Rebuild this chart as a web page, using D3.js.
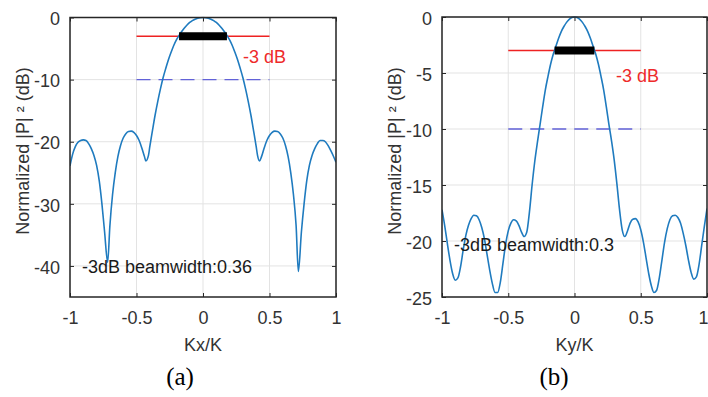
<!DOCTYPE html>
<html>
<head>
<meta charset="utf-8">
<script src="https://cdn.jsdelivr.net/npm/d3@7"></script>
<style>
  html, body { margin: 0; padding: 0; background: #fff; }
  svg { display: block; }
</style>
</head>
<body>
<svg id="chart" width="708" height="397"></svg>
<script>
// ---------- data ----------
const xTicks = [-1, -0.5, 0, 0.5, 1];
const xTickLabels = ["-1", "-0.5", "0", "0.5", "1"];
const yTicksA = [0, -10, -20, -30, -40];
const yTicksB = [0, -5, -10, -15, -20, -25];

// panel (a): pattern vs Kx/K
const patternAx = [-1, -0.98, -0.96, -0.94, -0.92, -0.9, -0.88, -0.86, -0.84, -0.82, -0.8, -0.78, -0.76, -0.74, -0.717, -0.7, -0.68, -0.66, -0.64, -0.62, -0.6, -0.58, -0.56, -0.54, -0.52, -0.5, -0.48, -0.46, -0.44, -0.43, -0.41, -0.4, -0.38, -0.36, -0.34, -0.32, -0.3, -0.28, -0.26, -0.24, -0.22, -0.2, -0.18, -0.16, -0.14, -0.12, -0.1, -0.08, -0.06, -0.04, -0.02, 0,
  0.02, 0.04, 0.06, 0.08, 0.1, 0.12, 0.14, 0.16, 0.18, 0.2, 0.22, 0.24, 0.26, 0.28, 0.3, 0.32, 0.34, 0.36, 0.38, 0.4, 0.41, 0.425, 0.44, 0.46, 0.48, 0.5, 0.52, 0.54, 0.56, 0.58, 0.6, 0.62, 0.64, 0.66, 0.68, 0.7, 0.717, 0.74, 0.76, 0.78, 0.8, 0.82, 0.84, 0.86, 0.88, 0.9, 0.92, 0.94, 0.96, 0.98, 1];
const patternAdB = [-23.9, -22.0, -20.8, -20.1, -19.8, -19.7, -19.8, -20.3, -21.1, -22.2, -23.8, -26.3, -30.0, -34.5, -39.4, -33.5, -28.5, -25.0, -22.4, -20.6, -19.4, -18.7, -18.35, -18.3, -18.5, -19.0, -19.8, -21.0, -22.4, -23.1, -22.2, -20.8, -18.2, -15.7, -13.5, -11.5, -9.7, -8.2, -6.8, -5.6, -4.5, -3.6, -2.9, -2.25, -1.7, -1.2, -0.8, -0.5, -0.28, -0.12, -0.03, 0,
  -0.03, -0.12, -0.28, -0.5, -0.8, -1.2, -1.7, -2.25, -2.9, -3.6, -4.5, -5.6, -6.8, -8.2, -9.7, -11.5, -13.5, -15.7, -18.2, -20.8, -22.2, -23.1, -22.4, -21.0, -19.8, -19.0, -18.5, -18.3, -18.35, -18.7, -19.4, -20.6, -22.4, -25.0, -28.5, -33.5, -40.9, -34.5, -30.0, -26.3, -23.8, -22.2, -21.1, -20.3, -19.8, -19.8, -20.0, -20.6, -21.4, -22.3, -23.3];

// panel (b): pattern vs Ky/K
const patternBx = [-1, -0.98, -0.96, -0.94, -0.92, -0.9, -0.88, -0.86, -0.84, -0.82, -0.8, -0.78, -0.76, -0.74, -0.72, -0.7, -0.68, -0.66, -0.64, -0.62, -0.6, -0.58, -0.56, -0.54, -0.52, -0.5, -0.48, -0.46, -0.44, -0.42, -0.4, -0.38, -0.36, -0.34, -0.32, -0.3, -0.28, -0.26, -0.24, -0.22, -0.2, -0.18, -0.16, -0.14, -0.12, -0.1, -0.08, -0.06, -0.04, -0.02, 0,
  0.02, 0.04, 0.06, 0.08, 0.1, 0.12, 0.14, 0.16, 0.18, 0.2, 0.22, 0.24, 0.26, 0.28, 0.3, 0.32, 0.34, 0.36, 0.38, 0.4, 0.42, 0.44, 0.46, 0.48, 0.5, 0.52, 0.54, 0.56, 0.58, 0.6, 0.62, 0.64, 0.66, 0.68, 0.7, 0.72, 0.74, 0.76, 0.78, 0.8, 0.82, 0.84, 0.86, 0.88, 0.9, 0.92, 0.94, 0.96, 0.98, 1];
const patternBdB = [-17.2, -18.6, -20.2, -21.7, -22.9, -23.5, -23.3, -22.3, -20.8, -19.5, -18.6, -18.0, -17.7, -17.75, -18.1, -18.8, -19.8, -21.2, -22.6, -23.8, -24.6, -24.6, -23.7, -22.0, -20.3, -19.1, -18.4, -18.1, -18.2, -18.6, -19.2, -19.6, -19.2, -17.4, -15.0, -12.9, -11.2, -9.6, -8.0, -6.5, -5.3, -4.2, -3.3, -2.6, -1.9, -1.3, -0.85, -0.48, -0.21, -0.05, 0,
  -0.05, -0.21, -0.48, -0.85, -1.3, -1.9, -2.6, -3.3, -4.2, -5.3, -6.5, -8.0, -9.6, -11.1, -12.8, -14.9, -17.2, -19.0, -19.6, -19.1, -18.4, -18.05, -18.0, -18.3, -19.0, -20.1, -21.5, -22.9, -24.0, -24.6, -24.4, -23.3, -21.7, -20.1, -18.9, -18.1, -17.75, -17.7, -17.9, -18.4, -19.3, -20.4, -21.7, -22.8, -23.4, -23.2, -22.1, -20.4, -18.7, -17.1];

const beamwidthA = 0.36;
const beamwidthB = 0.3;
const halfPowerLevel = -3;
const tenDbLevel = -10;
const refSpan = [-0.5, 0.5];

// ---------- drawing ----------
const svg = d3.select("#chart");
const FONT = "'Liberation Sans', Arial, Helvetica, sans-serif";
const TEXT = "#333333";

function drawPanel(p) {
  const x = d3.scaleLinear().domain([-1, 1]).range([p.left, p.right]);
  const y = d3.scaleLinear().domain(p.yDomain).range([p.bottom, p.top]);
  const g = svg.append("g");
  const clipId = "clip" + p.id;
  svg.append("clipPath").attr("id", clipId).append("rect")
    .attr("x", p.left).attr("y", p.top - 1)
    .attr("width", p.right - p.left).attr("height", p.bottom - p.top + 1);

  // grid
  g.selectAll(".gx").data(xTicks).join("line")
    .attr("x1", d => x(d)).attr("x2", d => x(d))
    .attr("y1", p.top).attr("y2", p.bottom)
    .attr("stroke", "#e3e3e3").attr("stroke-width", 1);
  g.selectAll(".gy").data(p.yTicks).join("line")
    .attr("x1", p.left).attr("x2", p.right)
    .attr("y1", d => y(d)).attr("y2", d => y(d))
    .attr("stroke", "#e3e3e3").attr("stroke-width", 1);

  // axes (ticks inward, on all four sides)
  const tickLen = 4;
  const axB = d3.axisBottom(x).tickValues(xTicks).tickSize(-tickLen).tickFormat((d, i) => xTickLabels[i]).tickPadding(14);
  const axT = d3.axisTop(x).tickValues(xTicks).tickSize(-tickLen).tickFormat("");
  const axL = d3.axisLeft(y).tickValues(p.yTicks).tickSize(-tickLen).tickFormat(d => String(d)).tickPadding(10);
  const axR = d3.axisRight(y).tickValues(p.yTicks).tickSize(-tickLen).tickFormat("");
  const styleAxis = sel => {
    sel.select(".domain").remove();
    sel.selectAll(".tick line").attr("stroke", "#262626").attr("stroke-width", 1);
    sel.selectAll("text").attr("fill", TEXT).style("font-family", FONT).style("font-size", "18px");
  };
  const bottomAxis = g.append("g").attr("transform", `translate(0,${p.bottom})`).call(axB).call(styleAxis);
  bottomAxis.selectAll("text").attr("dy", "0.71em");
  if (p.lastTickShift) {
    bottomAxis.selectAll(".tick").filter(d => d === 1).select("text").attr("dx", p.lastTickShift);
  }
  g.append("g").attr("transform", `translate(0,${p.top})`).call(axT).call(styleAxis);
  g.append("g").attr("transform", `translate(${p.left},0)`).call(axL).call(styleAxis)
    .selectAll("text").attr("dy", "0.4em");
  g.append("g").attr("transform", `translate(${p.right},0)`).call(axR).call(styleAxis);

  // reference lines
  g.append("line")
    .attr("x1", x(refSpan[0])).attr("x2", x(refSpan[1]))
    .attr("y1", y(tenDbLevel)).attr("y2", y(tenDbLevel))
    .attr("stroke", "#6262d8").attr("stroke-width", 1.3)
    .attr("stroke-dasharray", "14,8");
  g.append("line")
    .attr("x1", x(refSpan[0])).attr("x2", x(refSpan[1]))
    .attr("y1", y(halfPowerLevel)).attr("y2", y(halfPowerLevel))
    .attr("stroke", "#ee2222").attr("stroke-width", 1.5);

  // pattern curve
  const pts = p.xs.map((v, i) => [v, p.dbs[i]]);
  const line = d3.line().x(d => x(d[0])).y(d => y(d[1])).curve(d3.curveMonotoneX);
  g.append("path").datum(pts)
    .attr("d", line)
    .attr("clip-path", `url(#${clipId})`)
    .attr("fill", "none").attr("stroke", "#1f7bbf").attr("stroke-width", 1.6);

  // -3 dB beamwidth bar
  g.append("line")
    .attr("x1", x(-p.bw / 2)).attr("x2", x(p.bw / 2))
    .attr("y1", y(halfPowerLevel)).attr("y2", y(halfPowerLevel))
    .attr("stroke", "#000").attr("stroke-width", 8);

  // box
  g.append("rect")
    .attr("x", p.left).attr("y", p.top)
    .attr("width", p.right - p.left).attr("height", p.bottom - p.top)
    .attr("fill", "none").attr("stroke", "#262626").attr("stroke-width", 1.5);

  // annotations
  g.append("text")
    .attr("x", x(p.redLabel[0])).attr("y", y(p.redLabel[1]))
    .attr("dy", "0.35em")
    .attr("fill", "#ee2a2a").style("font-family", FONT).style("font-size", "18px")
    .text("-3 dB");
  g.append("text")
    .attr("x", x(p.bwLabel[0])).attr("y", y(p.bwLabel[1]))
    .attr("dy", "0.35em")
    .attr("fill", "#1a1a1a").style("font-family", FONT).style("font-size", "18px")
    .text("-3dB beamwidth:" + p.bw);

  // axis titles
  g.append("text")
    .attr("x", (p.left + p.right) / 2).attr("y", 351)
    .attr("text-anchor", "middle")
    .attr("fill", TEXT).style("font-family", FONT).style("font-size", "18px")
    .text(p.xTitle);
  g.append("text")
    .attr("transform", `translate(${p.yTitleX},151) rotate(-90)`)
    .attr("text-anchor", "middle")
    .attr("fill", TEXT).style("font-family", FONT).style("font-size", "18px")
    .text("Normalized |P| \u00B2 (dB)");

  // caption
  g.append("text")
    .attr("x", p.captionX).attr("y", 385)
    .attr("text-anchor", "middle")
    .attr("fill", "#000").style("font-family", "'Liberation Serif', 'Times New Roman', serif").style("font-size", "25px")
    .text(p.caption);
}

drawPanel({
  id: "a", left: 70, right: 336, top: 17.5, bottom: 297,
  yDomain: [-45, 0], yTicks: yTicksA,
  xs: patternAx, dbs: patternAdB, bw: beamwidthA,
  redLabel: [0.3, -6.3], bwLabel: [-0.91, -40.1],
  xTitle: "Kx/K", yTitleX: 29, caption: "(a)", captionX: 180
});
drawPanel({
  id: "b", left: 442, right: 707, top: 17, bottom: 297,
  yDomain: [-25, 0], yTicks: yTicksB,
  xs: patternBx, dbs: patternBdB, bw: beamwidthB,
  redLabel: [0.313, -5.2], bwLabel: [-0.91, -20.3],
  xTitle: "Ky/K", yTitleX: 401, caption: "(b)", captionX: 554,
  lastTickShift: -4
});
</script>
</body>
</html>
